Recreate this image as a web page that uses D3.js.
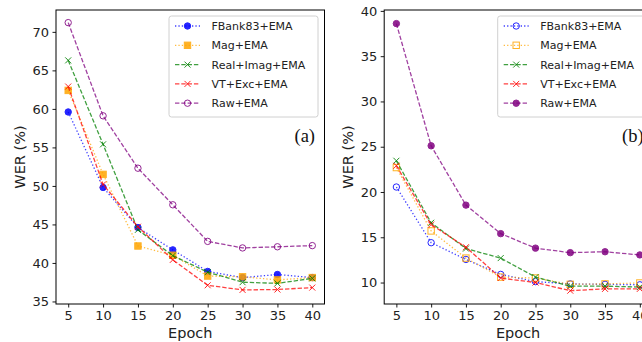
<!DOCTYPE html>
<html>
<head>
<meta charset="utf-8">
<script src="https://cdn.jsdelivr.net/npm/d3@7"></script>
<style>
  body { margin: 0; background: #fff; }
  svg { display: block; font-family: "DejaVu Sans", sans-serif; }
</style>
</head>
<body>
<svg id="chart" width="642" height="342"></svg>
<script>
// epochs on the x axis
var epochs = [5, 10, 15, 20, 25, 30, 35, 40]
var seriesNames = ["FBank83+EMA", "Mag+EMA", "Real+Imag+EMA", "VT+Exc+EMA", "Raw+EMA"]
var seriesColors = ["blue", "orange", "green", "red", "purple"]

// panel (a)
var fbankA = [59.6, 49.8, 44.6, 41.7, 38.9, 38.1, 38.5, 38.1]
var magA = [62.4, 51.5, 42.2, 41.0, 38.3, 38.2, 37.8, 38.1]
var realImagA = [66.3, 55.4, 44.3, 40.95, 38.8, 37.5, 37.35, 38.0]
var vtExcA = [62.9, 50.2, 44.7, 40.4, 37.1, 36.5, 36.55, 36.8]
var rawA = [71.2, 59.1, 52.3, 47.55, 42.8, 41.95, 42.1, 42.25]

// panel (b)
var fbankB = [20.55, 14.4, 12.55, 10.9, 10.1, 9.85, 9.8, 9.75]
var magB = [22.7, 15.7, 12.7, 10.6, 10.5, 9.8, 9.85, 9.95]
var realImagB = [23.45, 16.6, 13.75, 12.7, 10.6, 9.6, 9.6, 9.5]
var vtExcB = [22.9, 16.4, 13.9, 10.5, 10.0, 9.1, 9.3, 9.3]
var rawB = [38.6, 25.1, 18.55, 15.4, 13.8, 13.3, 13.4, 13.05]

var yTicksA = [35, 40, 45, 50, 55, 60, 65, 70]
var yTicksB = [10, 15, 20, 25, 30, 35, 40]

var svg = d3.select("#chart")

var lineStyle = {
   dotted: "1.3,2.1",
   dashed: "4.4,1.9"
}
// dash style and marker per series
var dashes = ["dotted", "dotted", "dashed", "dashed", "dashed"]
var markersA = ["circle", "square", "x", "x", "circleOpen"]
var markersB = ["circleOpen", "squareOpen", "x", "x", "circle"]

function drawMarker(g, type, color, cx, cy) {
   if (type == "circle" || type == "circleOpen") {
      g.append("circle")
         .attr("cx", cx).attr("cy", cy).attr("r", 3.2)
         .attr("fill", type == "circle" ? color : "none")
         .attr("stroke", color)
         .attr("stroke-width", 1)
   } else if (type == "square" || type == "squareOpen") {
      g.append("rect")
         .attr("x", cx - 3.2).attr("y", cy - 3.2)
         .attr("width", 6.4).attr("height", 6.4)
         .attr("fill", type == "square" ? color : "none")
         .attr("stroke", color)
         .attr("stroke-width", 1)
   } else {
      g.append("path")
         .attr("d", "M" + (cx - 3) + "," + (cy - 3) + "L" + (cx + 3) + "," + (cy + 3) +
                    "M" + (cx - 3) + "," + (cy + 3) + "L" + (cx + 3) + "," + (cy - 3))
         .attr("stroke", color)
         .attr("stroke-width", 1)
         .attr("fill", "none")
   }
}

function drawPanel(opts) {
   var xScale = d3.scaleLinear().domain([3.25, 41.75]).range([opts.left, opts.right])
   var yScale = d3.scaleLinear().domain(opts.yDomain).range([304, 10])
   var g = svg.append("g")

   var xAxis = d3.axisBottom(xScale).tickValues(epochs).tickSize(3.5).tickPadding(3.5)
   var yAxis = d3.axisLeft(yScale).tickValues(opts.yTicks).tickSize(3.5).tickPadding(3.5)

   g.append("g")
      .attr("transform", "translate(0,304)")
      .call(xAxis)
      .call(a => a.select(".domain").remove())
      .selectAll("text")
      .attr("font-size", 13).attr("font-family", "DejaVu Sans").attr("fill", "#222")

   g.append("g")
      .attr("transform", "translate(" + opts.left + ",0)")
      .call(yAxis)
      .call(a => a.select(".domain").remove())
      .selectAll("text")
      .attr("font-size", 13).attr("font-family", "DejaVu Sans").attr("fill", "#222")

   g.selectAll(".tick line").attr("stroke-width", 0.9)

   var line = d3.line()
      .x((d, i) => xScale(epochs[i]))
      .y(d => yScale(d))

   opts.series.forEach(function(vals, s) {
      var color = seriesColors[s]
      g.append("path")
         .datum(vals)
         .attr("d", line)
         .attr("fill", "none")
         .attr("stroke", color)
         .attr("stroke-opacity", 0.75)
         .attr("stroke-width", 1.3)
         .attr("stroke-dasharray", lineStyle[dashes[s]])
      var mg = g.append("g").attr("opacity", 0.85)
      vals.forEach(function(v, i) {
         drawMarker(mg, opts.markers[s], color, xScale(epochs[i]), yScale(v))
      })
   })

   // frame
   g.append("rect")
      .attr("x", opts.left).attr("y", 10)
      .attr("width", opts.right - opts.left).attr("height", 294)
      .attr("fill", "none")
      .attr("stroke", "black")
      .attr("stroke-width", 1)

   // legend
   var lg = g.append("g").attr("transform", "translate(" + opts.legendX + ",16)")
   lg.append("rect")
      .attr("width", 149).attr("height", 101)
      .attr("rx", 2.5)
      .attr("fill", "white").attr("fill-opacity", 0.8)
      .attr("stroke", "#d0d0d0").attr("stroke-width", 1)
   seriesNames.forEach(function(name, s) {
      var yy = 10 + s * 19.3
      lg.append("line")
         .attr("x1", 6).attr("x2", 31).attr("y1", yy).attr("y2", yy)
         .attr("stroke", seriesColors[s])
         .attr("stroke-opacity", 0.75)
         .attr("stroke-width", 1.3)
         .attr("stroke-dasharray", lineStyle[dashes[s]])
      drawMarker(lg.append("g").attr("opacity", 0.85), opts.markers[s], seriesColors[s], 18.5, yy)
      lg.append("text")
         .attr("x", 42.5).attr("y", yy + 4)
         .attr("font-size", 11)
         .attr("fill", "#222")
         .text(name)
   })

   // panel tag
   g.append("text")
      .attr("x", opts.right - 30).attr("y", 142)
      .attr("font-family", "Liberation Serif, serif")
      .attr("font-size", 18.5)
      .attr("fill", "#111")
      .text(opts.tag)

   // axis titles
   g.append("text")
      .attr("x", (opts.left + opts.right) / 2).attr("y", 338)
      .attr("text-anchor", "middle")
      .attr("font-size", 14.5).attr("fill", "#222")
      .text("Epoch")
   g.append("text")
      .attr("transform", "translate(" + (opts.left - 31) + ",157) rotate(-90)")
      .attr("text-anchor", "middle")
      .attr("font-size", 14.5).attr("fill", "#222")
      .text("WER (%)")
}

drawPanel({
   left: 56, right: 324.5,
   yDomain: [34.67, 72.84], yTicks: yTicksA,
   series: [fbankA, magA, realImagA, vtExcA, rawA],
   markers: markersA, legendX: 169, tag: "(a)"
})

drawPanel({
   left: 384.2, right: 652,
   yDomain: [7.63, 40.1], yTicks: yTicksB,
   series: [fbankB, magB, realImagB, vtExcB, rawB],
   markers: markersB, legendX: 497.7, tag: "(b)"
})
</script>
</body>
</html>
